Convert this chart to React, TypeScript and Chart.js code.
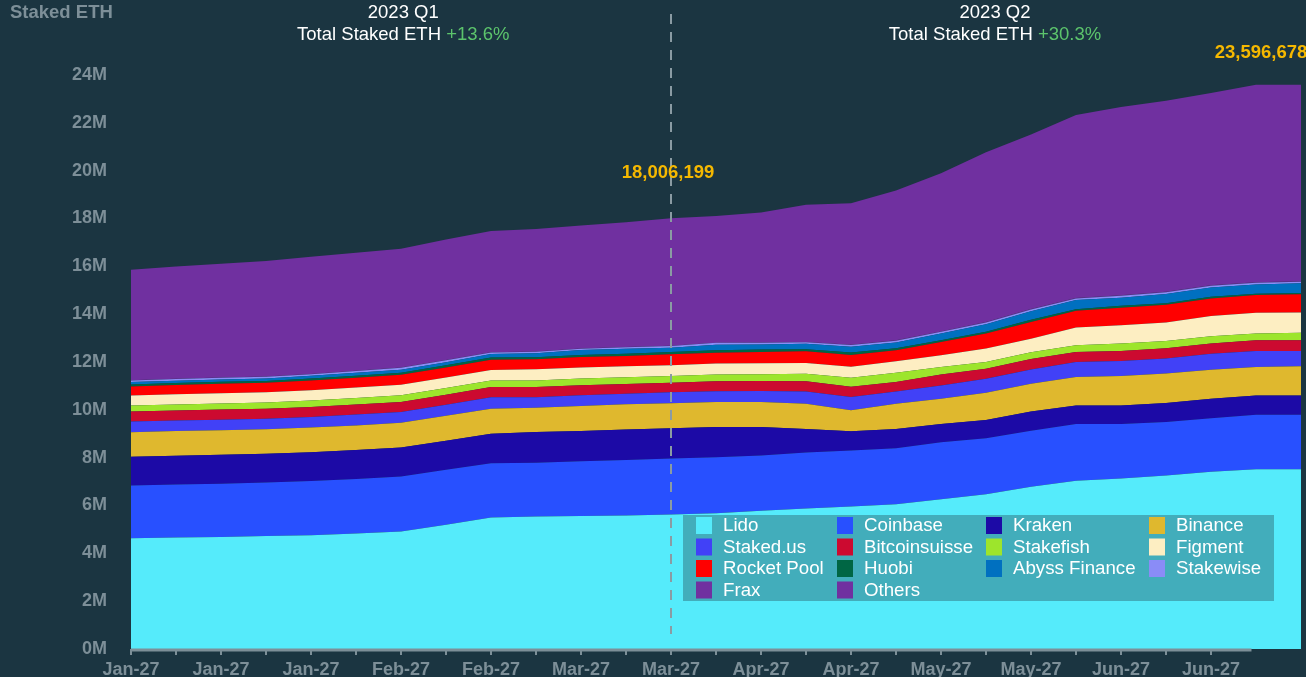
import React, { useEffect, useRef } from "react";
import { Chart, registerables } from "chart.js";

Chart.register(...registerables);

// ---------- DATA (values in millions of ETH) ----------
const weeks = [
  "W01", "W02", "W03", "W04", "W05", "W06", "W07", "W08", "W09", "W10", "W11", "W12", "W13", "W14",
  "W15", "W16", "W17", "W18", "W19", "W20", "W21", "W22", "W23", "W24", "W25", "W26", "W27",
];
const tickLabels = [
  "Jan-27", "Jan-27", "Jan-27", "Feb-27", "Feb-27", "Mar-27", "Mar-27",
  "Apr-27", "Apr-27", "May-27", "May-27", "Jun-27", "Jun-27",
];

const lido = [4.63, 4.66, 4.68, 4.72, 4.76, 4.83, 4.91, 5.2, 5.5, 5.54, 5.56, 5.58, 5.62, 5.68, 5.78, 5.87, 5.96, 6.05, 6.26, 6.47, 6.78, 7.04, 7.13, 7.25, 7.41, 7.52, 7.52];
const coinbase = [2.21, 2.22, 2.23, 2.24, 2.26, 2.28, 2.3, 2.29, 2.27, 2.25, 2.29, 2.32, 2.35, 2.34, 2.31, 2.35, 2.34, 2.34, 2.38, 2.34, 2.35, 2.37, 2.28, 2.24, 2.24, 2.27, 2.27];
const kraken = [1.2, 1.2, 1.21, 1.2, 1.21, 1.21, 1.22, 1.22, 1.23, 1.28, 1.27, 1.28, 1.26, 1.26, 1.19, 0.98, 0.8, 0.81, 0.77, 0.77, 0.8, 0.77, 0.77, 0.8, 0.81, 0.81, 0.81];
const binance = [1.02, 1.03, 1.03, 1.03, 1.03, 1.03, 1.03, 1.04, 1.05, 1.02, 1.04, 1.05, 1.05, 1.05, 1.05, 1.05, 0.88, 1.05, 1.05, 1.13, 1.16, 1.19, 1.23, 1.23, 1.22, 1.19, 1.22];
const stakedUs = [0.45, 0.44, 0.44, 0.44, 0.44, 0.45, 0.45, 0.46, 0.48, 0.44, 0.45, 0.44, 0.46, 0.45, 0.46, 0.52, 0.56, 0.52, 0.56, 0.59, 0.6, 0.63, 0.63, 0.63, 0.67, 0.67, 0.64];
const bitcoinsuisse = [0.42, 0.42, 0.42, 0.42, 0.42, 0.42, 0.42, 0.42, 0.42, 0.42, 0.42, 0.41, 0.39, 0.42, 0.42, 0.43, 0.42, 0.39, 0.46, 0.42, 0.44, 0.42, 0.42, 0.42, 0.42, 0.45, 0.45];
const stakefish = [0.25, 0.25, 0.25, 0.26, 0.27, 0.27, 0.28, 0.28, 0.28, 0.28, 0.28, 0.28, 0.28, 0.28, 0.28, 0.31, 0.38, 0.39, 0.31, 0.28, 0.28, 0.28, 0.31, 0.31, 0.31, 0.28, 0.31];
const figment = [0.42, 0.43, 0.43, 0.43, 0.43, 0.44, 0.44, 0.44, 0.44, 0.47, 0.46, 0.46, 0.45, 0.46, 0.46, 0.45, 0.46, 0.48, 0.49, 0.56, 0.56, 0.74, 0.77, 0.77, 0.84, 0.87, 0.85];
const rocketPool = [0.38, 0.39, 0.4, 0.39, 0.41, 0.41, 0.42, 0.42, 0.42, 0.42, 0.44, 0.43, 0.46, 0.45, 0.47, 0.49, 0.49, 0.46, 0.56, 0.63, 0.7, 0.7, 0.73, 0.74, 0.74, 0.74, 0.76];
const huobi = [0.08, 0.08, 0.08, 0.08, 0.08, 0.09, 0.08, 0.09, 0.1, 0.08, 0.08, 0.1, 0.1, 0.1, 0.1, 0.08, 0.11, 0.09, 0.07, 0.07, 0.1, 0.07, 0.08, 0.07, 0.07, 0.05, 0.06];
const abyssFinance = [0.1, 0.1, 0.1, 0.1, 0.11, 0.12, 0.13, 0.13, 0.14, 0.17, 0.21, 0.2, 0.18, 0.23, 0.21, 0.23, 0.24, 0.24, 0.28, 0.32, 0.35, 0.38, 0.34, 0.38, 0.39, 0.39, 0.4];
const stakewise = [0.07, 0.07, 0.07, 0.07, 0.07, 0.07, 0.08, 0.08, 0.07, 0.06, 0.05, 0.07, 0.07, 0.08, 0.08, 0.07, 0.07, 0.07, 0.07, 0.07, 0.08, 0.07, 0.08, 0.08, 0.07, 0.07, 0.07];
const frax = [0.01, 0.01, 0.01, 0.01, 0.01, 0.01, 0.01, 0.01, 0.01, 0.01, 0.01, 0.01, 0.01, 0.01, 0.01, 0.01, 0.01, 0.02, 0.02, 0.02, 0.02, 0.02, 0.02, 0.02, 0.02, 0.02, 0.02];
const others = [4.62, 4.69, 4.76, 4.83, 4.9, 4.94, 4.97, 5.04, 5.07, 5.12, 5.15, 5.21, 5.326199, 5.29, 5.43, 5.74, 5.92, 6.26, 6.61, 7.1, 7.29, 7.65, 7.87, 7.98, 8.04, 8.266678, 8.217];

const yTicks = [0, 2, 4, 6, 8, 10, 12, 14, 16, 18, 20, 22, 24];
const quarters = [
  { title: "2023 Q1", sub: "Total Staked ETH ", change: "+13.6%", center: 6.05 },
  { title: "2023 Q2", sub: "Total Staked ETH ", change: "+30.3%", center: 19.2 },
];
const markIndex = [12, 25];
const dividerIndex = 12;

const series = [
  { name: "Lido", data: lido, color: "#55ebfb" },
  { name: "Coinbase", data: coinbase, color: "#2850ff" },
  { name: "Kraken", data: kraken, color: "#1c0aa6" },
  { name: "Binance", data: binance, color: "#dfb82e" },
  { name: "Staked.us", data: stakedUs, color: "#4141f7" },
  { name: "Bitcoinsuisse", data: bitcoinsuisse, color: "#cc0a30" },
  { name: "Stakefish", data: stakefish, color: "#9de52c" },
  { name: "Figment", data: figment, color: "#fdeec2" },
  { name: "Rocket Pool", data: rocketPool, color: "#ff0000" },
  { name: "Huobi", data: huobi, color: "#006644" },
  { name: "Abyss Finance", data: abyssFinance, color: "#0070c0" },
  { name: "Stakewise", data: stakewise, color: "#8a8cf7" },
  { name: "Frax", data: frax, color: "#7030a0" },
  { name: "Others", data: others, color: "#7030a0" },
];

const BG = "#1b3541";
const AXIS = "#7d8f98";
const GOLD = "#f5b800";
const GREEN = "#5cc46c";
const FONT = "'Liberation Sans', Arial, sans-serif";

const totalAt = (i: number) => series.reduce((s, d) => s + d.data[i], 0);

export default function App() {
  const ref = useRef<HTMLCanvasElement | null>(null);

  useEffect(() => {
    document.body.style.margin = "0";
    const canvas = ref.current;
    if (!canvas) return;

    const overlay = {
      id: "overlay",
      afterDraw(chart: any) {
        const ctx = chart.ctx as CanvasRenderingContext2D;
        const xs = chart.scales.x;
        const ys = chart.scales.y;
        const area = chart.chartArea;
        const step = xs.getPixelForValue(1) - xs.getPixelForValue(0);
        const px = (v: number) => xs.getPixelForValue(0) + v * step;
        ctx.save();

        // x axis line (ends shortly before the last weeks)
        ctx.strokeStyle = AXIS;
        ctx.lineWidth = 3;
        ctx.beginPath();
        ctx.moveTo(area.left, area.bottom + 1);
        ctx.lineTo(px(24.9), area.bottom + 1);
        ctx.stroke();

        // divider dashed line
        const xd = px(dividerIndex);
        ctx.strokeStyle = "#8a9ba3";
        ctx.lineWidth = 2;
        ctx.setLineDash([10, 8]);
        ctx.beginPath();
        ctx.moveTo(xd, 14);
        ctx.lineTo(xd, 634);
        ctx.stroke();
        ctx.setLineDash([]);

        // y axis title
        ctx.fillStyle = AXIS;
        ctx.font = `bold 18.5px ${FONT}`;
        ctx.textAlign = "left";
        ctx.textBaseline = "middle";
        ctx.fillText("Staked ETH", 10, 13);

        // quarter headers
        quarters.forEach((q) => {
          const cx = px(q.center);
          ctx.font = `18.5px ${FONT}`;
          ctx.textAlign = "center";
          ctx.fillStyle = "#ffffff";
          ctx.fillText(q.title, cx, 13);
          const w1 = ctx.measureText(q.sub).width;
          const w2 = ctx.measureText(q.change).width;
          const start = cx - (w1 + w2) / 2;
          ctx.textAlign = "left";
          ctx.fillText(q.sub, start, 35);
          ctx.fillStyle = GREEN;
          ctx.fillText(q.change, start + w1, 35);
        });

        // total labels
        const dy = [45, 32];
        const dx = [-3, 5];
        ctx.font = `bold 18.5px ${FONT}`;
        ctx.fillStyle = GOLD;
        ctx.textAlign = "center";
        markIndex.forEach((i, k) => {
          const tot = totalAt(i);
          const txt = Math.round(tot * 1e6).toLocaleString("en-US");
          const y = ys.getPixelForValue(tot);
          ctx.fillText(txt, px(i) + dx[k], y - dy[k]);
        });

        // legend
        const lx = 683, ly = 515, lw = 591, lh = 86;
        ctx.fillStyle = "#42adbb";
        ctx.fillRect(lx, ly, lw, lh);
        const colSw = [696, 837, 986, 1149];
        const colTx = [723, 864, 1013, 1176];
        const rowY = [525, 546.5, 568, 589.5];
        ctx.font = `18.7px ${FONT}`;
        ctx.textBaseline = "middle";
        ctx.textAlign = "left";
        series.forEach((s, k) => {
          const c = k % 4;
          const r = Math.floor(k / 4);
          ctx.fillStyle = s.color;
          ctx.fillRect(colSw[c], rowY[r] - 8, 16, 17);
          ctx.fillStyle = "#ffffff";
          ctx.fillText(s.name, colTx[c], rowY[r] + 1);
        });

        ctx.restore();
      },
    };

    const chart = new Chart(canvas, {
      type: "line",
      data: {
        labels: weeks,
        datasets: series.map((s, i) => ({
          label: s.name,
          data: s.data,
          backgroundColor: s.color,
          borderColor: s.color,
          borderWidth: 0,
          pointRadius: 0,
          tension: 0,
          fill: i === 0 ? "origin" : "-1",
        })),
      },
      options: {
        animation: false,
        responsive: false,
        events: [],
        layout: { padding: { left: 0, right: 5, top: 75, bottom: 0 } },
        plugins: { legend: { display: false }, tooltip: { enabled: false } },
        scales: {
          x: {
            type: "category",
            offset: false,
            border: { display: false },
            grid: {
              display: true,
              drawOnChartArea: false,
              drawTicks: true,
              tickLength: 6,
              lineWidth: 2,
              color: (ctx: any) => (ctx.index <= 24 ? AXIS : "rgba(0,0,0,0)"),
            },
            ticks: {
              autoSkip: false,
              maxRotation: 0,
              minRotation: 0,
              padding: 4,
              color: AXIS,
              font: { family: FONT, size: 18, weight: "bold" },
              callback: (_v: any, i: number) =>
                i % 2 === 0 && i / 2 < tickLabels.length ? tickLabels[i / 2] : "",
            },
            afterFit: (scale: any) => {
              scale.height = 28;
            },
          },
          y: {
            stacked: true,
            min: 0,
            max: 24,
            border: { display: false },
            grid: { display: false },
            afterBuildTicks: (scale: any) => {
              scale.ticks = yTicks.map((v) => ({ value: v }));
            },
            ticks: {
              padding: 16,
              color: AXIS,
              font: { family: FONT, size: 18, weight: "bold" },
              callback: (v: any) => `${v}M`,
            },
            afterFit: (scale: any) => {
              scale.width = 131;
            },
          },
        },
      },
      plugins: [overlay],
    } as any);

    return () => chart.destroy();
  }, []);

  return (
    <div style={{ width: 1306, height: 677, background: BG, position: "relative" }}>
      <canvas ref={ref} width={1306} height={677} style={{ display: "block" }} />
    </div>
  );
}
